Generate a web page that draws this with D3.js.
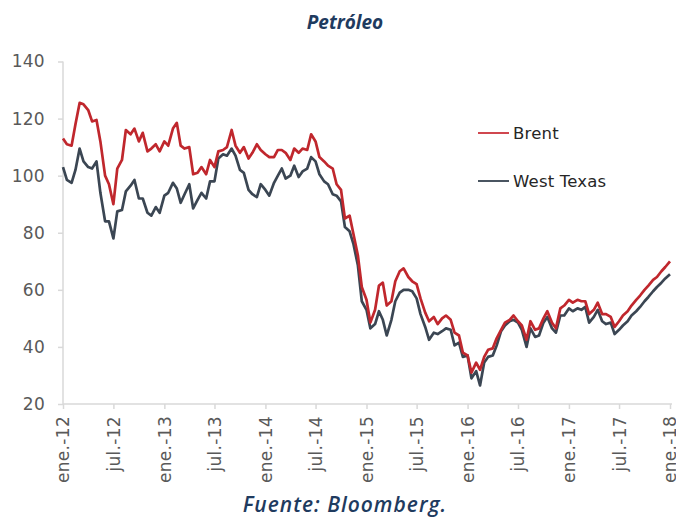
<!DOCTYPE html>
<html>
<head>
<meta charset="utf-8">
<script src="https://cdn.jsdelivr.net/npm/d3@7"></script>
<style>
  body { margin: 0; background: #fff; }
  svg { display: block; }
</style>
</head>
<body>
<svg width="676" height="521"></svg>
<script>
// muestreo quincenal: dia 1 y 15 de cada mes, ene-2012 a ene-2018
var fechaInicio = new Date(2012, 0, 1),
  fechaFin = new Date(2018, 0, 1);
var fechas = [];
d3.timeMonth.range(fechaInicio, fechaFin).forEach(function(m) {
  fechas.push(m);
  fechas.push(d3.timeDay.offset(m, 14));
});
fechas.push(fechaFin);

var brent = [
  // 2012
  113, 111, 110.5, 118, 125.5, 125, 123, 119, 119.5, 112, 100, 97,
  90, 102.5, 105.5, 116, 114.5, 116.5, 112, 115, 108.5, 109.5, 111, 108.5,
  // 2013
  112, 110.5, 116.5, 118.5, 110.5, 109.5, 110, 100.5, 101, 103, 100.5, 105.5,
  103, 108.5, 109, 110, 116, 110.5, 108, 110, 106, 108, 111, 109,
  // 2014
  107.5, 106.5, 106.5, 109, 109, 108, 105.5, 109.5, 108, 109.5, 109, 114.5,
  112, 106.5, 105, 103.5, 102.5, 97, 95, 85, 86, 79.5, 72, 61,
  // 2015
  56.5, 48.5, 53, 61.5, 62.5, 54.5, 56, 63, 66.5, 67.5, 64.5, 63,
  62, 57, 52, 49, 50.5, 48, 50, 51, 49.5, 45, 44, 38,
  // 2016
  37, 31, 34.5, 32, 36.5, 39, 39.5, 43, 46, 48.5, 49.5, 51,
  49, 47.5, 42.5, 49, 46, 46.5, 50, 52.5, 48.5, 46.5, 53.5, 54.5,
  // 2017
  56.5, 55.5, 56.5, 56, 56, 51.5, 53, 55.5, 51.5, 51.5, 50.5, 47,
  49, 51, 52.5, 54.5, 56.5, 58, 60, 61.5, 63.5, 64.5, 66.5, 68,
  // ene-2018
  70
];

var westTexas = [
  // 2012
  103, 98.5, 97.5, 102, 109.5, 105, 103, 102.5, 105, 94, 84, 84,
  78, 87.5, 88, 94.5, 96.5, 98.5, 92, 92, 87, 86, 89, 87,
  // 2013
  93, 94, 97.5, 95.5, 90.5, 93.5, 97, 88.5, 91.5, 94, 92, 98,
  98, 106, 107.5, 107, 109.5, 107, 102, 101, 95, 93.5, 92.5, 97,
  // 2014
  95, 93, 97.5, 100, 102.5, 99, 100, 103.5, 99.5, 101.5, 102.5, 106.5,
  105, 100.5, 98, 97, 93.5, 93, 91, 82, 80.5, 76, 68.5, 56,
  // 2015
  53, 46.5, 48, 52.5, 49.5, 44, 49.5, 56, 59, 60, 60, 59.5,
  57, 51.5, 47, 42.5, 45, 44.5, 45.5, 46.5, 46, 40.5, 41.5, 36.5,
  // 2016
  37, 29, 31.5, 26.5, 34.5, 36.5, 37, 40.5, 45.5, 47.5, 49, 49.5,
  48.5, 46, 40, 46.5, 43.5, 44, 48.5, 50.5, 46.5, 45, 51, 51,
  // 2017
  53.5, 52.5, 53.5, 53, 54, 48.5, 50.5, 53, 49, 48, 48.5, 44.5,
  46, 47.5, 49, 51, 52.5, 54, 56, 57.5, 59.5, 61, 62.5, 64,
  // ene-2018
  65.5
];

var yTicks = [20, 40, 60, 80, 100, 120, 140];
var series = [
  { name: "Brent", values: brent, color: "#c0272d" },
  { name: "West Texas", values: westTexas, color: "#3b4653" }
];

var mesesCortos = ["ene.", "feb.", "mar.", "abr.", "may.", "jun.", "jul.", "ago.", "sep.", "oct.", "nov.", "dic."];

var svg = d3.select("svg");
var plotLeft = 63, plotRight = 670, plotTop = 61.5, plotBottom = 404;

var xScale = d3.scaleTime()
  .domain([fechaInicio, fechaFin])
  .range([plotLeft, plotRight]);
var yScale = d3.scaleLinear()
  .domain([20, 140])
  .range([plotBottom, plotTop]);

// titulo
svg.append("text")
  .attr("x", 345)
  .attr("y", 29)
  .attr("text-anchor", "middle")
  .attr("font-family", "Open Sans")
  .attr("font-weight", "bold")
  .attr("font-style", "italic")
  .attr("font-size", "19px")
  .attr("fill", "#1f3b5f")
  .text("Petróleo");

// eje y
var yAxis = svg.append("g")
  .attr("transform", "translate(" + plotLeft + ",0)")
  .call(d3.axisLeft(yScale).tickValues(yTicks).tickSize(5).tickPadding(13));

// eje x
var xAxis = svg.append("g")
  .attr("transform", "translate(0," + plotBottom + ")")
  .call(d3.axisBottom(xScale)
    .ticks(d3.timeMonth.every(6))
    .tickSize(5)
    .tickFormat(function(d) {
      return mesesCortos[d.getMonth()] + "-" + d3.timeFormat("%y")(d);
    }));

xAxis.selectAll("text")
  .attr("transform", "rotate(-90)")
  .attr("x", -12)
  .attr("y", 0)
  .attr("dy", "0.35em")
  .style("text-anchor", "end");

[yAxis, xAxis].forEach(function(ax) {
  ax.select(".domain").attr("stroke", "#d9d9d9").attr("stroke-width", 1.5);
  ax.selectAll(".tick line").attr("stroke", "#d9d9d9").attr("stroke-width", 1.5);
  ax.selectAll("text")
    .attr("font-family", "DejaVu Sans")
    .attr("font-size", "17px")
    .attr("letter-spacing", "0.3px")
    .attr("fill", "#595959");
});
yAxis.select(".domain").attr("d", "M0," + plotBottom + "V" + plotTop);
xAxis.select(".domain").attr("d", "M" + plotLeft + ",0H" + (plotRight + 2));

// lineas: primero west texas y encima brent donde se cruzan
var line = d3.line()
  .x(function(d, i) { return xScale(fechas[i]); })
  .y(function(d) { return yScale(d); });

series.slice().reverse().forEach(function(s) {
  svg.append("path")
    .attr("d", line(s.values))
    .attr("fill", "none")
    .attr("stroke", s.color)
    .attr("stroke-width", 2.7)
    .attr("stroke-linejoin", "round");
});

// leyenda
var legend = svg.append("g")
  .attr("transform", "translate(478,133)");
series.forEach(function(s, i) {
  var g = legend.append("g").attr("transform", "translate(0," + (i * 48) + ")");
  g.append("line")
    .attr("x1", 0).attr("x2", 31)
    .attr("stroke", i == 0 ? "#d0474f" : "#4a5561")
    .attr("stroke-width", 2);
  g.append("text")
    .attr("x", 35)
    .attr("dy", "0.35em")
    .attr("font-family", "DejaVu Sans")
    .attr("font-size", "16.5px")
    .attr("letter-spacing", "0.2px")
    .attr("fill", "#262626")
    .text(s.name);
});

// fuente
svg.append("text")
  .attr("x", 345)
  .attr("y", 512)
  .attr("text-anchor", "middle")
  .attr("font-family", "Open Sans")
  .attr("font-weight", "600")
  .attr("font-style", "italic")
  .attr("font-size", "21px")
  .attr("letter-spacing", "1px")
  .attr("fill", "#1f3b5f")
  .text("Fuente:  Bloomberg.");
</script>
</body>
</html>
